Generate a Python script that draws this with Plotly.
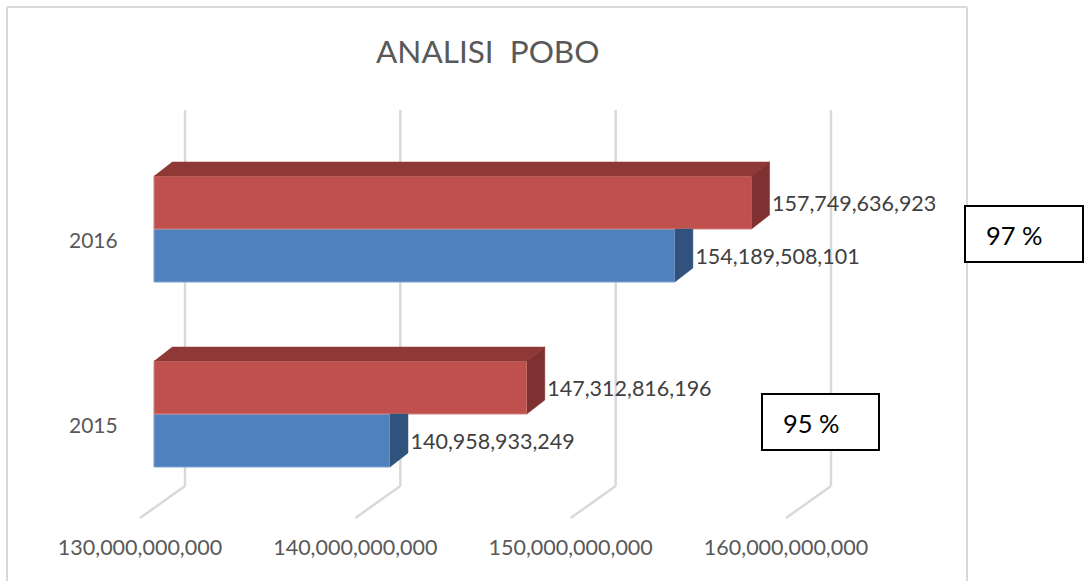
import plotly.graph_objects as go

years = ["2015", "2016"]
series_blue = [140958933249, 154189508101]
series_red = [147312816196, 157749636923]
axis_ticks = [130000000000, 140000000000, 150000000000, 160000000000]
boxes = ["95 %", "97 %"]
title = "ANALISI  POBO"

W, H = 1088, 581
L, R, T, B = 60, 88, 100, 51
PW, PH = W - L - R, H - T - B
X0PX = 154                   # pixel column of the first axis value
XS = 646 / (axis_ticks[-1] - axis_ticks[0])   # px per value
XBASE = axis_ticks[0]
XLO = XBASE - (X0PX - L) / XS
XHI = XLO + PW / XS
YPX0 = 414                   # pixel row of the 2015 category
YS = 185                     # px per category
YMIN = (YPX0 - (T + PH)) / YS
YMAX = (YPX0 - T) / YS


def dx(px):
    return px / XS


def dy(px):
    return px / YS


def pxp(x):
    return (x - L) / PW


def pyp(y):
    return (T + PH - y) / PH


FONT = "Lato, 'Open Sans', sans-serif"
BAR_H = 53 / YS
DEPTH_X, DEPTH_Y = 18, 14
RED, BLUE = "#C0504D", "#4F81BD"
RED_TOP, RED_SIDE, BLUE_SIDE = "#8F3937", "#7E3130", "#30527C"
GRID = "#D9D9D9"
ypos = list(range(len(years)))

fig = go.Figure()
fig.add_bar(y=ypos, x=[v - XBASE for v in series_blue], base=XBASE, orientation="h",
            marker=dict(color=BLUE, line=dict(color="#7FA3D0", width=1)))
fig.add_bar(y=ypos, x=[v - XBASE for v in series_red], base=XBASE, orientation="h",
            marker=dict(color=RED, line=dict(color="#D08583", width=1)))


def poly(xs, ys, color):
    fig.add_scatter(x=xs, y=ys, mode="lines", fill="toself", fillcolor=color,
                    line=dict(color=color, width=0.5), cliponaxis=False, hoverinfo="skip")


for i, (b, r) in enumerate(zip(series_blue, series_red)):
    y_top = i + BAR_H
    poly([XBASE, r, r + dx(DEPTH_X), XBASE + dx(DEPTH_X)],
         [y_top, y_top, y_top + dy(DEPTH_Y), y_top + dy(DEPTH_Y)], RED_TOP)
    poly([r, r + dx(DEPTH_X), r + dx(DEPTH_X), r],
         [y_top, y_top + dy(DEPTH_Y), i + dy(DEPTH_Y), i], RED_SIDE)
    poly([b, b + dx(DEPTH_X), b + dx(DEPTH_X), b],
         [i, i, i - BAR_H + dy(DEPTH_Y), i - BAR_H], BLUE_SIDE)

fig.add_scatter(
    x=[v + dx(DEPTH_X + 2.5) for v in series_red], y=[i + BAR_H / 2 - dy(3) for i in ypos],
    mode="text", text=[f"{v:,}" for v in series_red], textposition="middle right",
    textfont=dict(family=FONT, size=21.5, color="#404040"), cliponaxis=False, hoverinfo="skip")
fig.add_scatter(
    x=[v + dx(DEPTH_X + 2.5) for v in series_blue], y=[i - BAR_H / 2 - dy(3.5) for i in ypos],
    mode="text", text=[f"{v:,}" for v in series_blue], textposition="middle right",
    textfont=dict(family=FONT, size=21.5, color="#404040"), cliponaxis=False, hoverinfo="skip")

shapes = []
for t in axis_ticks:
    xb = t + dx(31)
    xf = t - dx(14)
    y_back_top = dy(YPX0 - 110)
    y_back_floor = dy(YPX0 - 486)
    y_front = dy(YPX0 - 518)
    shapes.append(dict(type="line", xref="x", yref="y", layer="below", x0=xb, x1=xb,
                       y0=y_back_top, y1=y_back_floor, line=dict(color=GRID, width=2.5)))
    shapes.append(dict(type="line", xref="x", yref="y", layer="below", x0=xb, x1=xf,
                       y0=y_back_floor, y1=y_front, line=dict(color=GRID, width=2.5)))

for x0, y0, x1, y1 in [(7, 7, 967, 7), (7, 7, 7, 581), (967, 7, 967, 581)]:
    shapes.append(dict(type="line", xref="paper", yref="paper", layer="below",
                       x0=pxp(x0), x1=pxp(x1), y0=pyp(y0), y1=pyp(y1),
                       line=dict(color=GRID, width=2)))

annotations = []
for label, (x0, y0, x1, y1) in zip(boxes, [(762, 394, 879, 450), (965, 206, 1083, 262)]):
    shapes.append(dict(type="rect", xref="paper", yref="paper", layer="above",
                       x0=pxp(x0), x1=pxp(x1), y0=pyp(y0), y1=pyp(y1),
                       fillcolor="white", line=dict(color="black", width=2)))
    annotations.append(dict(xref="paper", yref="paper", x=pxp(x0 + 19), y=pyp((y0 + y1) / 2 + 1),
                            xanchor="left", yanchor="middle", text=label, showarrow=False,
                            font=dict(family=FONT, size=25.5, color="black")))

annotations.append(dict(xref="paper", yref="paper", x=pxp(487), y=pyp(51), xanchor="center",
                        yanchor="middle", text=title.replace("  ", "\u00a0 "), showarrow=False,
                        font=dict(family=FONT, size=31.5, color="#595959")))

fig.update_layout(
    width=W, height=H, margin=dict(l=L, r=R, t=T, b=B, autoexpand=False),
    paper_bgcolor="white", plot_bgcolor="rgba(0,0,0,0)", showlegend=False,
    barmode="group", bargap=1 - 2 * BAR_H, bargroupgap=0,
    shapes=shapes, annotations=annotations,
    xaxis=dict(range=[XLO, XHI], showgrid=False, zeroline=False, showline=False,
               tickmode="array", tickvals=[t - dx(14) for t in axis_ticks],
               ticktext=[f"{t:,}" for t in axis_ticks], ticks="",
               tickfont=dict(family=FONT, size=21.5, color="#595959"), ticklabelstandoff=2),
    yaxis=dict(range=[YMIN, YMAX], showgrid=False, zeroline=False, showline=False,
               tickmode="array", tickvals=[i - dy(12) for i in ypos], ticktext=years, ticks="",
               ticklabelposition="inside", ticklabelstandoff=6,
               tickfont=dict(family=FONT, size=21, color="#595959")),
)

fig.write_html("out.html", config=dict(displayModeBar=False),
               post_script="document.body.style.margin='0';document.documentElement.style.overflow='hidden';")
